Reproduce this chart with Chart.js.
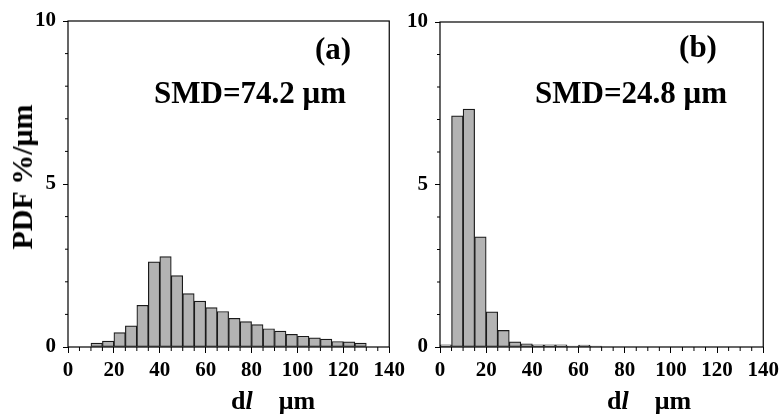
<!DOCTYPE html>
<html>
<head>
<meta charset="utf-8">
<script src="https://cdn.jsdelivr.net/npm/chart.js@4.4.0/dist/chart.umd.min.js"></script>
<style>
  body { margin: 0; background: #fff; }
  #wrap { position: relative; width: 784px; height: 416px; overflow: hidden;
          font-family: "Liberation Serif", "Times New Roman", serif; font-weight: bold; color: #000; }
  canvas { position: absolute; top: 0; }
  .lbl { position: absolute; white-space: nowrap; line-height: 1; transform: translate(-50%, -50%); }
</style>
</head>
<body>
<div id="wrap">
  <canvas id="chartA" width="410" height="416" style="left:0"></canvas>
  <canvas id="chartB" width="378" height="416" style="left:406px"></canvas>

  <div class="lbl" style="left:22px; top:177px; font-size:30px; transform:translate(-50%,-50%) rotate(-90deg)">PDF %/μm</div>
  <div class="lbl" style="left:333px; top:48px; font-size:31px">(a)</div>
  <div class="lbl" style="left:250px; top:92px; font-size:31px">SMD=74.2 μm</div>
  <div class="lbl" style="left:698px; top:46px; font-size:31px">(b)</div>
  <div class="lbl" style="left:631px; top:92px; font-size:31px">SMD=24.8 μm</div>
  <div class="lbl" style="left:273px; top:401px; font-size:26px">d<i>l</i><span style="display:inline-block;width:26px"></span>μm</div>
  <div class="lbl" style="left:649px; top:401px; font-size:26px">d<i>l</i><span style="display:inline-block;width:26px"></span>μm</div>
</div>

<script>
// Histograma (a): centros de clase (µm) y PDF (%/µm)
const binsA = [12.5, 17.5, 22.5, 27.5, 32.5, 37.5, 42.5, 47.5, 52.5, 57.5, 62.5, 67.5,
               72.5, 77.5, 82.5, 87.5, 92.5, 97.5, 102.5, 107.5, 112.5, 117.5, 122.5, 127.5];
const pdfA = [0.12, 0.18, 0.44, 0.65, 1.28, 2.61, 2.77, 2.19, 1.64, 1.41, 1.21, 1.09,
              0.88, 0.78, 0.69, 0.56, 0.49, 0.39, 0.33, 0.28, 0.24, 0.17, 0.16, 0.12];

// Histograma (b)
const binsB = [2.5, 7.5, 12.5, 17.5, 22.5, 27.5, 32.5, 37.5, 42.5, 47.5, 52.5, 57.5, 62.5, 67.5];
const pdfB = [0.07, 7.11, 7.32, 3.39, 1.08, 0.51, 0.16, 0.10, 0.07, 0.07, 0.07, 0.03, 0.06, 0.03];

// Ejes
const xMax = 140, xMajor = 20, xMinor = 5;
const yMax = 10, yMajor = 5, yMinor = 1;

Chart.defaults.font.family = '"Liberation Serif", "Times New Roman", serif';
Chart.defaults.font.weight = 'bold';
Chart.defaults.font.size = 21;
Chart.defaults.color = '#000';

// Marco del área y marcas menores
const frameAndMinorTicks = {
    id: 'frameAndMinorTicks',
    afterDatasetsDraw(chart) {
        const { ctx, chartArea: a, scales: { x, y } } = chart;
        ctx.save();
        ctx.strokeStyle = '#000';
        ctx.lineWidth = 1.2;
        ctx.strokeRect(a.left, a.top, a.right - a.left, a.bottom - a.top);
        ctx.lineWidth = 1;
        ctx.beginPath();
        for (let v = xMinor; v < xMax; v += xMinor) {
            if (v % xMajor) {
                const px = x.getPixelForValue(v);
                ctx.moveTo(px, a.bottom);
                ctx.lineTo(px, a.bottom + 4);
            }
        }
        for (let v = yMinor; v < yMax; v += yMinor) {
            if (v % yMajor) {
                const py = y.getPixelForValue(v);
                ctx.moveTo(a.left - 3, py);
                ctx.lineTo(a.left, py);
            }
        }
        ctx.stroke();
        ctx.restore();
    }
};

function makeHistogram(id, bins, values, yWidth, top) {
    return new Chart(document.getElementById(id), {
        type: 'bar',
        data: {
            datasets: [{
                data: bins.map((b, i) => ({ x: b, y: values[i] })),
                backgroundColor: '#b3b3b3',
                borderColor: '#1a1a1a',
                borderWidth: 1.2,
                borderSkipped: false,
                barPercentage: 1,
                categoryPercentage: 1
            }]
        },
        options: {
            responsive: false,
            animation: false,
            layout: { padding: { top: top, right: 17, bottom: 0, left: 0 } },
            plugins: { legend: { display: false }, tooltip: { enabled: false } },
            scales: {
                x: {
                    type: 'linear',
                    min: 0,
                    max: xMax,
                    offset: false,
                    grid: { display: true, drawOnChartArea: false, offset: false, tickLength: 6, tickColor: '#000' },
                    border: { display: false },
                    ticks: { stepSize: xMajor, padding: 5, maxRotation: 0 },
                    afterFit: s => { s.height = 69; }
                },
                y: {
                    min: 0,
                    max: yMax,
                    grid: { display: true, drawOnChartArea: false, tickLength: 5, tickColor: '#000' },
                    border: { display: false },
                    ticks: { stepSize: yMajor, padding: 7 },
                    afterFit: s => { s.width = yWidth; }
                }
            }
        },
        plugins: [frameAndMinorTicks]
    });
}

makeHistogram('chartA', binsA, pdfA, 68, 21);
makeHistogram('chartB', binsB, pdfB, 34, 22);
</script>
</body>
</html>
